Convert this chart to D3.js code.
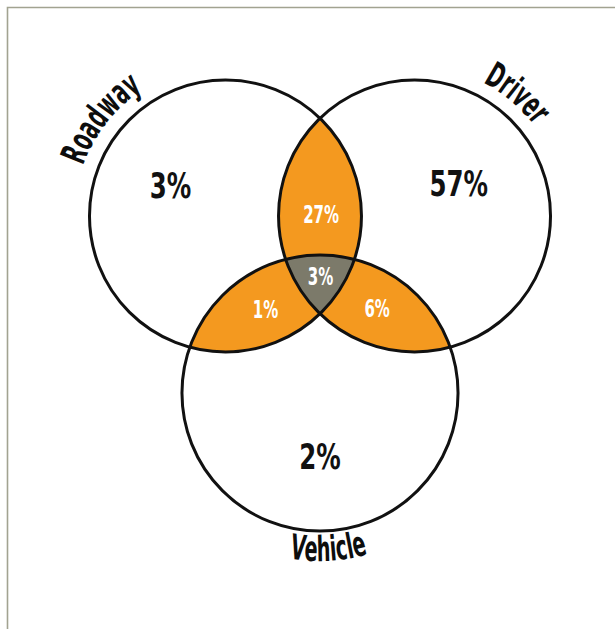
<!DOCTYPE html>
<html>
<head>
<meta charset="utf-8">
<script src="https://cdn.jsdelivr.net/npm/d3@7"></script>
<style>
  html, body { margin: 0; padding: 0; background: #ffffff; }
  svg { display: block; }
</style>
</head>
<body>
<svg id="chart" width="615" height="629"></svg>
<script>
// Crash-factor sets and the share of crashes in each region of the diagram
const sets = ["Roadway", "Driver", "Vehicle"];
const regionSets = [
  ["Roadway"], ["Driver"], ["Vehicle"],
  ["Roadway", "Driver"], ["Roadway", "Vehicle"], ["Driver", "Vehicle"],
  ["Roadway", "Driver", "Vehicle"]
];
const regionValues = [3, 57, 2, 27, 1, 6, 3];
const regionLabels = regionValues.map(v => v + "%");

// Diagram geometry in layout units (circle radius ~ 1)
const circleLayout = {
  Roadway: { x: -0.695, y: -0.65, r: 1.0 },
  Driver:  { x:  0.695, y: -0.65, r: 1.0 },
  Vehicle: { x:  0.0,   y:  0.652, r: 1.015 }
};
// label anchor points for each region (layout units)
const regionAnchors = [
  [-1.10, -0.88], [1.02, -0.89], [0.0, 1.115],
  [0.008, -0.665], [-0.40, 0.035], [0.42, 0.025],
  [0.004, -0.21]
];

const svg = d3.select("#chart");
const x = d3.scaleLinear().domain([-1, 1]).range([184, 456]);
const y = d3.scaleLinear().domain([-1, 1]).range([168.4, 440.4]);
const k = (x(1) - x(-1)) / 2; // pixels per layout unit

const circ = name => {
  const c = circleLayout[name];
  return { cx: x(c.x), cy: y(c.y), r: c.r * k };
};

// frame lines
svg.append("path")
  .attr("d", "M7.5,629 V7.5 H615")
  .attr("fill", "none")
  .attr("stroke", "#a2a391")
  .attr("stroke-width", 1.6);

const defs = svg.append("defs");
sets.forEach(s => {
  const c = circ(s);
  defs.append("clipPath").attr("id", "clip-" + s)
    .append("circle").attr("cx", c.cx).attr("cy", c.cy).attr("r", c.r);
});

// white base discs
svg.append("g").selectAll("circle").data(sets).join("circle")
  .attr("cx", d => circ(d).cx).attr("cy", d => circ(d).cy).attr("r", d => circ(d).r)
  .attr("fill", "#ffffff");

const regionFill = n => n === 3 ? "#7c7a6a" : n === 2 ? "#f4991f" : "none";

// overlap regions: last set's disc clipped by every other set in the region
regionSets.forEach(rs => {
  if (rs.length < 2) return;
  let g = svg.append("g");
  rs.slice(0, -1).forEach(s => {
    g = g.attr("clip-path", "url(#clip-" + s + ")").append("g");
  });
  const c = circ(rs[rs.length - 1]);
  g.append("circle").attr("cx", c.cx).attr("cy", c.cy).attr("r", c.r)
    .attr("fill", regionFill(rs.length));
});

// circle outlines
svg.append("g").selectAll("circle").data(sets).join("circle")
  .attr("cx", d => circ(d).cx).attr("cy", d => circ(d).cy).attr("r", d => circ(d).r)
  .attr("fill", "none").attr("stroke", "#111111").attr("stroke-width", 3);

// region values
const font = "'DejaVu Sans', sans-serif";
regionLabels.forEach((lab, i) => {
  const single = regionSets[i].length === 1;
  const size = single ? 36 : 25;
  const sx = single ? 0.68 : 0.6;
  const px = x(regionAnchors[i][0]), py = y(regionAnchors[i][1]);
  svg.append("text")
    .attr("transform", `translate(${px},${py}) scale(${sx},1)`)
    .attr("text-anchor", "middle")
    .attr("dy", "0.36em")
    .attr("font-family", font)
    .attr("font-weight", "bold")
    .attr("font-size", size)
    .attr("fill", single ? "#111111" : "#ffffff")
    .text(lab);
});

// set names bent along their circles
const nameSize = 35, nameScale = 0.55;
const measure = svg.append("text")
  .attr("font-family", font).attr("font-weight", "bold").attr("font-size", nameSize)
  .attr("visibility", "hidden");
function charWidth(ch) {
  measure.text(ch);
  return measure.node().getComputedTextLength() * nameScale;
}
const nameArcs = {
  Roadway: { mid: -142, radius: 151, outside: true },
  Driver:  { mid: -50,  radius: 150, outside: true },
  Vehicle: { mid: 87,   radius: 168, outside: false }
};
sets.forEach(s => {
  const c = circ(s);
  const a = nameArcs[s];
  const chars = s.split("");
  const widths = chars.map(charWidth);
  const total = d3.sum(widths);
  const mid = a.mid * Math.PI / 180;
  const dir = a.outside ? 1 : -1;
  const start = mid - dir * total / 2 / a.radius;
  let cum = 0;
  const g = svg.append("g");
  chars.forEach((ch, j) => {
    const th = start + dir * (cum + widths[j] / 2) / a.radius;
    cum += widths[j];
    const px = c.cx + a.radius * Math.cos(th);
    const py = c.cy + a.radius * Math.sin(th);
    const rot = th * 180 / Math.PI + (a.outside ? 90 : -90);
    g.append("text")
      .attr("transform", `translate(${px},${py}) rotate(${rot}) scale(${nameScale},1)`)
      .attr("text-anchor", "middle")
      .attr("font-family", font).attr("font-weight", "bold")
      .attr("font-size", nameSize).attr("fill", "#0d0d0d")
      .text(ch);
  });
});
measure.remove();
</script>
</body>
</html>
